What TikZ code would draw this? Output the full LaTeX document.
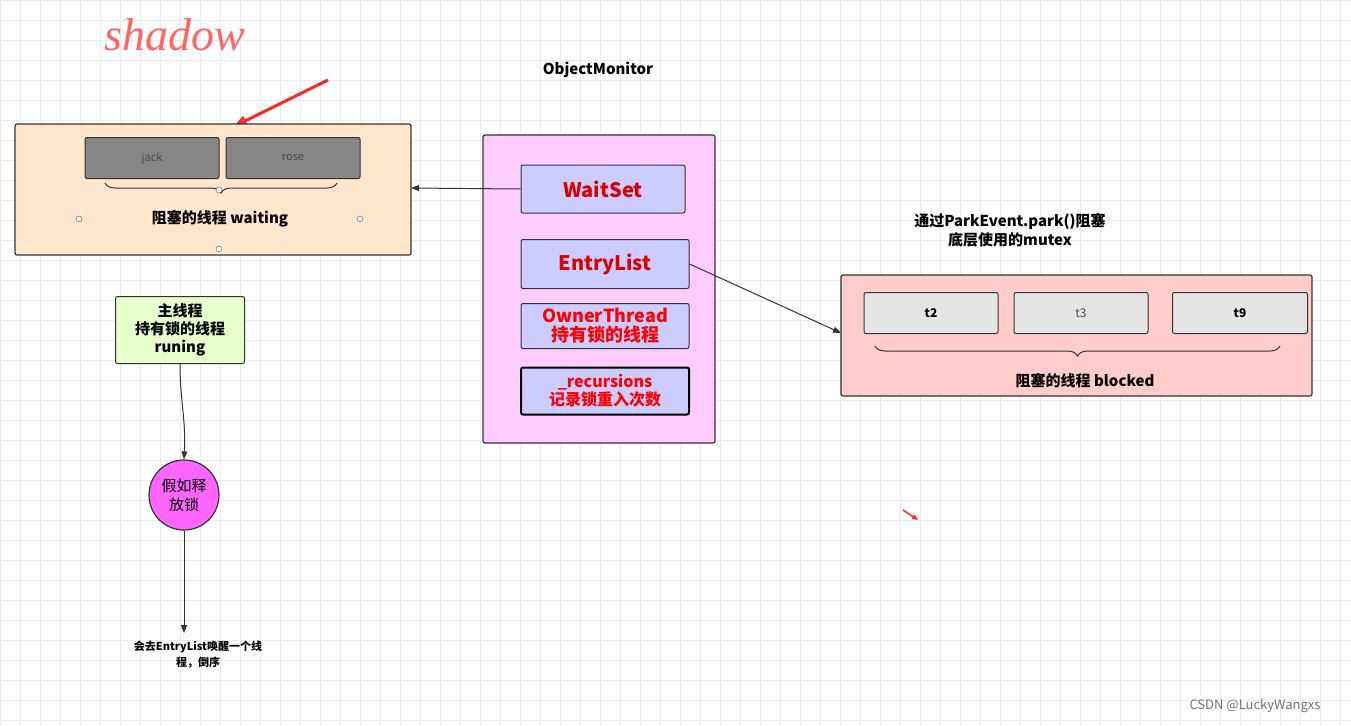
\documentclass[tikz,border=0pt]{standalone}
\usepackage{fontspec}
\setmainfont{Noto Sans CJK SC}
\newfontfamily\scr{Liberation Serif}
\usetikzlibrary{decorations.pathreplacing,arrows.meta}
\definecolor{mpink}{RGB}{255,204,255}
\definecolor{cpink}{RGB}{255,102,255}
\definecolor{lblue}{RGB}{204,204,255}
\definecolor{peach}{RGB}{255,230,204}
\definecolor{lgreen}{RGB}{230,255,204}
\definecolor{rpink}{RGB}{255,204,204}
\begin{document}
\begin{tikzpicture}[x=1pt,y=-1pt,
 box/.style={draw=black!80,line width=1.2pt,rounded corners=2pt},
 inner/.style={box,fill=#1,line width=1pt},
 red/.style={text=red!85!black,font=\fontsize{20}{22}\selectfont\bfseries},
 arr/.style={-{Triangle[length=8pt,width=6pt]},line width=1pt,black!80},
 hnd/.style={circle,draw=black!70,fill=white,inner sep=0pt,minimum size=6pt},
 brc/.style={decorate,decoration={brace,mirror,amplitude=10pt},black!80,line width=1pt}]
\useasboundingbox (0,0) rectangle (1351,725);
\fill[white] (0,0) rectangle (1351,725);
\foreach \i in {0,20,...,1340} \draw[black!8] (\i,0) -- (\i,725);
\foreach \j in {0,20,...,720} \draw[black!8] (0,\j) -- (1351,\j);
\node[font=\scr\itshape\fontsize{46}{46}\selectfont,text=red!60] (sh) at (175,35) {shadow};
\draw[red!85,line width=3pt,-{Triangle[length=14pt,width=10pt]}] (328,80) -- (233,127);
\node[font=\bfseries\fontsize{15}{17}\selectfont] (om) at (598,70) {ObjectMonitor};
% left box
\draw[box,fill=peach] (15,124) rectangle (411,255);
\node[inner=gray!95,minimum width=134pt,minimum height=41pt,font=\fontsize{11}{12}\selectfont,text=black!70] (jack) at (152,158) {jack};
\node[inner=gray!95,minimum width=134pt,minimum height=41pt,font=\fontsize{11}{12}\selectfont,text=black!70] (rose) at (293,158) {rose};
\draw[brc] (105,183) -- (337,183);
\node[hnd] at (219,190) {};
\node[hnd] at (79,219) {};
\node[hnd] at (360,219) {};
\node[hnd] at (219,249) {};
\node[font=\bfseries\fontsize{15}{17}\selectfont] (wt) at (220,219) {阻塞的线程 waiting};
% monitor
\draw[box,fill=mpink] (483,135) rectangle (715,443);
\node[inner=lblue,minimum width=164pt,minimum height=48pt,red] (ws) at (603,189) {WaitSet};
\node[inner=lblue,minimum width=168pt,minimum height=49pt,red] (el) at (605,264) {EntryList};
\node[inner=lblue,minimum width=168pt,minimum height=45pt,text=red,font=\fontsize{18}{19}\selectfont\bfseries,align=center] (ot) at (605,326) {OwnerThread\\持有锁的线程};
\node[inner=lblue,line width=2pt,draw=black,minimum width=168pt,minimum height=47pt,text=red,font=\fontsize{16}{18}\selectfont\bfseries,align=center] (rc) at (605,391) {\_recursions\\记录锁重入次数};
\coordinate (lb) at (411,188);
\draw[arr] (ws.west) -- (lb);
% right
\node[font=\bfseries\fontsize{15}{19}\selectfont,align=center] (pk) at (1010,230) {通过ParkEvent.park()阻塞\\底层使用的mutex};
\draw[box,fill=rpink] (841,275) rectangle (1312,396);
\coordinate (rb) at (841,333);
\draw[arr] (el.east) -- (rb);
\node[inner=black!10,minimum width=134pt,minimum height=41pt,font=\bfseries\fontsize{12}{12}\selectfont] (t2) at (931,313) {t2};
\node[inner=black!10,minimum width=134pt,minimum height=41pt,font=\fontsize{12}{12}\selectfont,text=black!70] (t3) at (1081,313) {t3};
\node[inner=black!10,minimum width=135pt,minimum height=41pt,font=\bfseries\fontsize{12}{12}\selectfont] (t9) at (1240,313) {t9};
\draw[brc] (875,346) -- (1280,346);
\node[font=\bfseries\fontsize{15}{17}\selectfont] (bl) at (1085,381) {阻塞的线程 blocked};
% main thread
\node[inner=lgreen,minimum width=129pt,minimum height=67pt,font=\bfseries\fontsize{15}{18}\selectfont,align=center] (mt) at (180,330) {主线程\\持有锁的线程\\runing};
\node[circle,draw=black!80,line width=1.2pt,fill=cpink,minimum size=70pt,inner sep=0pt,font=\fontsize{15}{19}\selectfont,align=center] (rl) at (184,495) {假如释\\放锁};
\draw[arr] (mt.south) .. controls (180,400) and (186,420) .. (rl.north);
\node[font=\bfseries\fontsize{11}{16}\selectfont,align=center] (tx) at (198,655) {会去EntryList唤醒一个线\\程，倒序};
\coordinate (ta) at (184,633);
\draw[arr] (rl.south) -- (ta);
\draw[red!85,line width=1.5pt,-{Triangle[length=6pt,width=5pt]}] (903,510) -- (918,520);
\node[text=black!55,font=\fontsize{13}{14}\selectfont] (wm) at (1255,706) {CSDN @LuckyWangxs};
\end{tikzpicture}
\end{document}
